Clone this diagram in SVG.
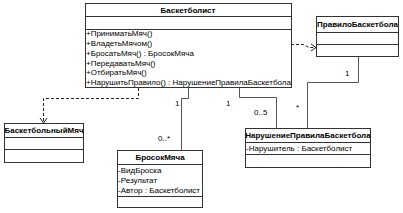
<svg xmlns="http://www.w3.org/2000/svg" width="403" height="213" viewBox="0 0 403 213">
<style>
.box{fill:#fff;stroke:#333;stroke-width:1}
.sep{stroke:#333;stroke-width:1}
.t{font-family:"Liberation Sans",Arial,sans-serif;font-size:8px;fill:#000}
.b{font-weight:bold;text-anchor:middle}
.assoc{fill:none;stroke:#555;stroke-width:1}
.dep{fill:none;stroke:#222;stroke-width:1;stroke-dasharray:3,2}
.head{fill:none;stroke:#222;stroke-width:1}
</style>
<rect width="403" height="213" fill="#fff"/>
<g id="connectors">
<path class="dep" d="M138.5,88 V98.5 H43.5 V122"/>
<path class="head" d="M40,118 L43.5,123 L47,118"/>
<path class="dep" d="M291,44.5 H303 L309,47.5 H315"/>
<path class="head" d="M311,44 L316,47.5 L311,51"/>
<path class="assoc" d="M188.5,88 V98.5 H181.5 V150"/>
<path class="assoc" d="M239.5,88 V97.5 H276.5 V128"/>
<path class="assoc" d="M358.5,57 V82.5 H307.5 V128"/>
<text class="t" x="175" y="106">1</text>
<text class="t" x="158" y="141">0..*</text>
<text class="t" x="226" y="106">1</text>
<text class="t" x="254" y="115">0..5</text>
<text class="t" x="345" y="76">1</text>
<text class="t" x="296" y="110">*</text>
</g>
<g id="Basketbolist">
<rect class="box" x="85.5" y="3.5" width="206" height="84"/>
<line class="sep" x1="85.5" y1="16.5" x2="291.5" y2="16.5"/>
<line class="sep" x1="85.5" y1="29.5" x2="291.5" y2="29.5"/>
<text class="t b" x="188" y="13">Баскетболист</text>
<text class="t" x="86" y="36">+ПриниматьМяч()</text>
<text class="t" x="86" y="46">+ВладетьМячом()</text>
<text class="t" x="86" y="55.5">+БросатьМяч() : БросокМяча</text>
<text class="t" x="86" y="65.5">+ПередаватьМяч()</text>
<text class="t" x="86" y="75">+ОтбиратьМяч()</text>
<text class="t" x="86" y="85">+НарушитьПравило() : НарушениеПравилаБаскетбола</text>
</g>
<g id="PraviloBasketbola">
<rect class="box" x="316.5" y="16.5" width="82" height="40"/>
<line class="sep" x1="316.5" y1="32.5" x2="398.5" y2="32.5"/>
<line class="sep" x1="316.5" y1="44.5" x2="398.5" y2="44.5"/>
<text class="t b" x="357.5" y="27">ПравилоБаскетбола</text>
</g>
<g id="BasketbolnyMyach">
<rect class="box" x="4.5" y="123.5" width="79" height="39"/>
<line class="sep" x1="4.5" y1="137.5" x2="83.5" y2="137.5"/>
<line class="sep" x1="4.5" y1="149.5" x2="83.5" y2="149.5"/>
<text class="t b" x="44" y="133">БаскетбольныйМяч</text>
</g>
<g id="BrosokMyacha">
<rect class="box" x="117.5" y="150.5" width="85" height="57"/>
<line class="sep" x1="117.5" y1="164.5" x2="202.5" y2="164.5"/>
<line class="sep" x1="117.5" y1="196.5" x2="202.5" y2="196.5"/>
<text class="t b" x="160" y="160">БросокМяча</text>
<text class="t" x="118" y="173">-ВидБроска</text>
<text class="t" x="118" y="183">-Результат</text>
<text class="t" x="118" y="192.5">-Автор : Баскетболист</text>
</g>
<g id="NarushenieAssoc">
<rect class="box" x="245.5" y="128.5" width="125" height="39"/>
<line class="sep" x1="245.5" y1="142.5" x2="370.5" y2="142.5"/>
<line class="sep" x1="245.5" y1="154.5" x2="370.5" y2="154.5"/>
<text class="t b" x="308" y="138">НарушениеПравилаБаскетбола</text>
<text class="t" x="246" y="151">-Нарушитель : Баскетболист</text>
</g>
</svg>
